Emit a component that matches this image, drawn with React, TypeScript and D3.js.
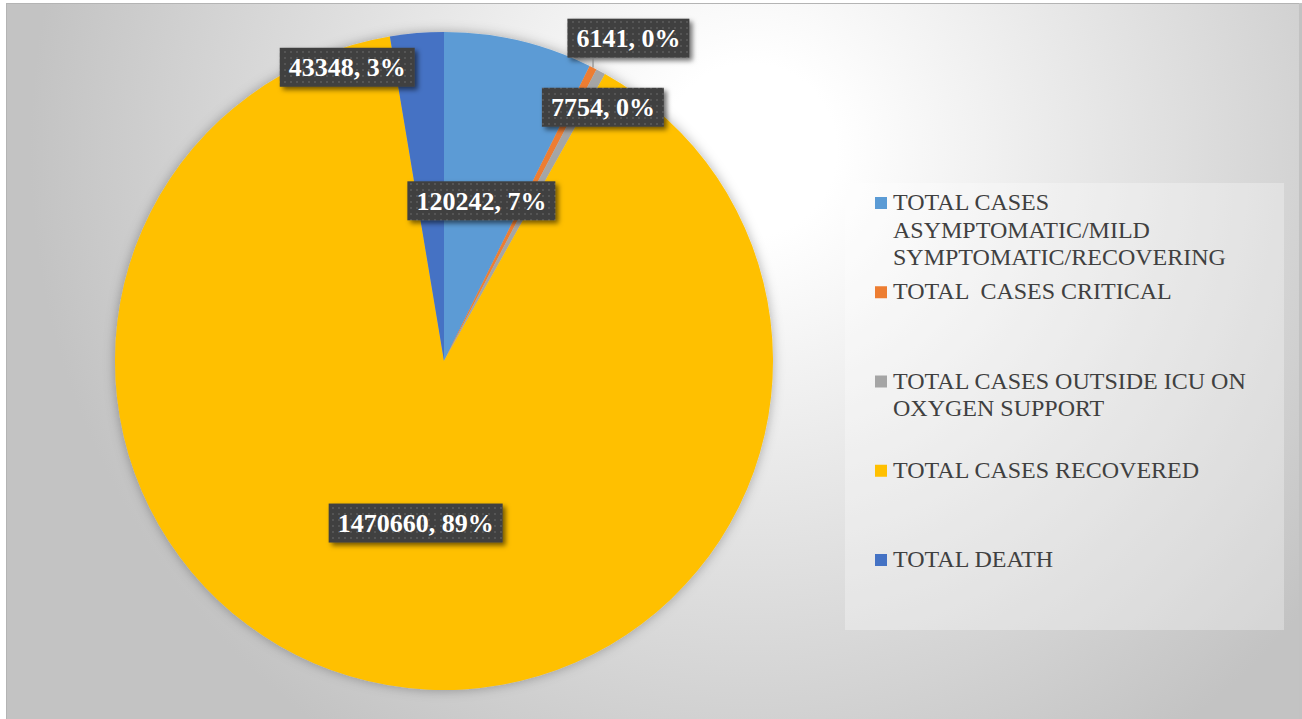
import { useRef, useEffect } from "react";
import * as d3 from "d3";

const CATEGORIES = [
  "TOTAL CASES ASYMPTOMATIC/MILD SYMPTOMATIC/RECOVERING",
  "TOTAL  CASES CRITICAL",
  "TOTAL CASES OUTSIDE ICU ON OXYGEN SUPPORT",
  "TOTAL CASES RECOVERED",
  "TOTAL DEATH",
];
// legend text as it wraps in the picture
const LEGEND_LINES = [
  ["TOTAL CASES", "ASYMPTOMATIC/MILD", "SYMPTOMATIC/RECOVERING"],
  ["TOTAL  CASES CRITICAL"],
  ["TOTAL CASES OUTSIDE ICU ON", "OXYGEN SUPPORT"],
  ["TOTAL CASES RECOVERED"],
  ["TOTAL DEATH"],
];
const VALUES = [120242, 6141, 7754, 1470660, 43348];
const COLORS = ["#5b9bd5", "#ed7d31", "#a5a5a5", "#ffc000", "#4472c4"];

// label placement: radius factor and angle nudge (degrees) from slice middle
const LABEL_RADIUS = [0.5, 1.13, 0.91, 0.5, 0.94];
const LABEL_NUDGE = [0, 2.8, 3.6, 0, -13.5];
const LABEL_LEADER = [false, true, false, false, false];

const W = 1302;
const H = 719;
const CX = 444;
const CY = 361;
const R = 329;
const FONT = "'Liberation Serif', 'Times New Roman', serif";

export default function App() {
  const svgRef = useRef<SVGSVGElement>(null);

  useEffect(() => {
    if (!svgRef.current) return;
    const svg = d3.select(svgRef.current);
    svg.selectAll("*").remove();

    const defs = svg.append("defs");

    const bg = defs.append("radialGradient")
      .attr("id", "bg-grad")
      .attr("gradientUnits", "userSpaceOnUse")
      .attr("cx", 750).attr("cy", 150).attr("r", 720);
    bg.append("stop").attr("offset", 0).attr("stop-color", "#ffffff");
    bg.append("stop").attr("offset", 0.12).attr("stop-color", "#ffffff");
    bg.append("stop").attr("offset", 1).attr("stop-color", "#c3c3c3");

    const pieShadow = defs.append("filter").attr("id", "pie-shadow")
      .attr("x", "-10%").attr("y", "-10%").attr("width", "120%").attr("height", "120%");
    pieShadow.append("feDropShadow")
      .attr("dx", 0).attr("dy", 0).attr("stdDeviation", 6)
      .attr("flood-color", "#000").attr("flood-opacity", 0.3);

    const boxShadow = defs.append("filter").attr("id", "box-shadow")
      .attr("x", "-20%").attr("y", "-30%").attr("width", "140%").attr("height", "170%");
    boxShadow.append("feDropShadow")
      .attr("dx", 3).attr("dy", 3).attr("stdDeviation", 2.5)
      .attr("flood-color", "#000").attr("flood-opacity", 0.55);

    const dots = defs.append("pattern").attr("id", "dots")
      .attr("patternUnits", "userSpaceOnUse")
      .attr("width", 6).attr("height", 6);
    dots.append("rect").attr("width", 6).attr("height", 6).attr("fill", "#404040");
    dots.append("rect").attr("x", 2).attr("y", 2).attr("width", 2).attr("height", 2).attr("fill", "#545454");

    // chart area
    svg.append("rect")
      .attr("x", 6.5).attr("y", 3.5)
      .attr("width", 1293).attr("height", 720)
      .attr("fill", "url(#bg-grad)")
      .attr("stroke", "#b4b4b4");
    svg.append("rect")
      .attr("x", 1299).attr("y", 3).attr("width", 3).attr("height", 716)
      .attr("fill", "#c2c2c2");

    // pie
    const pie = d3.pie<number>().sort(null).value((d) => d);
    const arcs = pie(VALUES);
    const arc = d3.arc<d3.PieArcDatum<number>>().innerRadius(0).outerRadius(R);
    const total = d3.sum(VALUES);

    const pieG = svg.append("g")
      .attr("transform", `translate(${CX},${CY})`)
      .attr("filter", "url(#pie-shadow)");
    pieG.selectAll("path")
      .data(arcs)
      .join("path")
      .attr("d", arc)
      .attr("fill", (_d, i) => COLORS[i]);

    // data labels
    const labelG = svg.append("g").attr("transform", `translate(${CX},${CY})`);
    arcs.forEach((a, i) => {
      const mid = (a.startAngle + a.endAngle) / 2;
      const ang = mid + (LABEL_NUDGE[i] * Math.PI) / 180;
      const lr = R * LABEL_RADIUS[i];
      const x = lr * Math.sin(ang);
      const y = -lr * Math.cos(ang);
      const txt = `${VALUES[i]}, ${Math.round((VALUES[i] / total) * 100)}%`;

      const g = labelG.append("g");
      const rect = g.append("rect").attr("fill", "url(#dots)").attr("filter", "url(#box-shadow)");
      const t = g.append("text")
        .attr("x", x)
        .attr("y", y + 9)
        .attr("text-anchor", "middle")
        .attr("font-family", FONT)
        .attr("font-weight", "bold")
        .attr("font-size", 26)
        .attr("fill", "#ffffff")
        .text(txt);
      const tw = (t.node() as SVGTextElement).getComputedTextLength();
      const bw = tw + 18;
      const bh = 39;
      rect.attr("x", x - bw / 2).attr("y", y - bh / 2).attr("width", bw).attr("height", bh);

      if (LABEL_LEADER[i]) {
        const ex = R * Math.sin(mid);
        const ey = -R * Math.cos(mid);
        labelG.append("line")
          .attr("x1", ex).attr("y1", ey)
          .attr("x2", ex).attr("y2", y + bh / 2)
          .attr("stroke", "#7f7f7f")
          .attr("stroke-width", 1);
      }
    });

    // legend
    svg.append("rect")
      .attr("x", 845).attr("y", 183)
      .attr("width", 439).attr("height", 447)
      .attr("fill", "#ffffff")
      .attr("fill-opacity", 0.3);

    const legend = svg.append("g");
    CATEGORIES.forEach((_c, i) => {
      const baseY = 210 + i * 89.25;
      legend.append("rect")
        .attr("x", 875).attr("y", baseY - 13)
        .attr("width", 12).attr("height", 12)
        .attr("fill", COLORS[i]);
      LEGEND_LINES[i].forEach((line, j) => {
        legend.append("text")
          .attr("x", 893)
          .attr("y", baseY + j * 27.6)
          .attr("font-family", FONT)
          .attr("font-size", 24)
          .attr("fill", "#404040")
          .style("white-space", "pre")
          .text(line);
      });
    });
  }, []);

  return (
    <svg
      ref={svgRef}
      width={W}
      height={H}
      viewBox={`0 0 ${W} ${H}`}
      style={{ position: "absolute", left: 0, top: 0, display: "block" }}
    />
  );
}
